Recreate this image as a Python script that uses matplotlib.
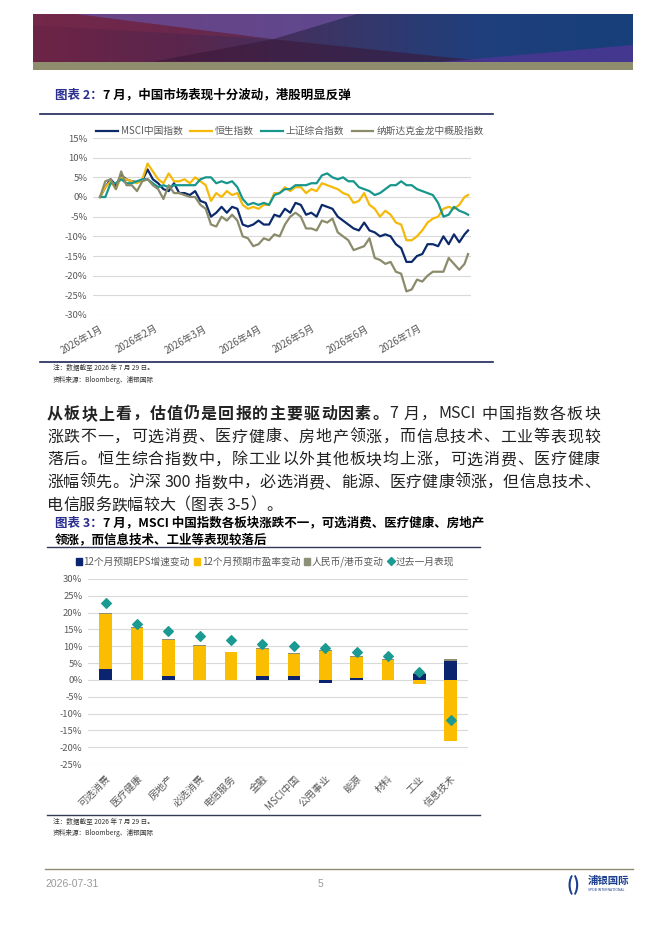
import re
import numpy as np
import pandas as pd
import matplotlib
matplotlib.use('Agg')
import matplotlib.pyplot as plt
from matplotlib.lines import Line2D
from matplotlib.patches import Patch, Polygon, Rectangle
from matplotlib.colors import LinearSegmentedColormap

plt.rcParams['font.family'] = ['Noto Sans CJK SC', 'DejaVu Sans']

# ---- chart 2 data: cumulative return (%) sampled every 3 days from 2026-01-01, last point 07-29
dates = pd.date_range('2026-01-01', periods=70, freq='3D').append(pd.DatetimeIndex(['2026-07-29']))
msci = [0, 2.5, 4.5, 3, 5.5, 4.5, 4, 3.8, 4.2, 7, 4.5, 3.5, 2, 1.5, 3.5, 1, 1, 0.5, 1.5, -1,
        -1.5, -5, -4, -2.5, -4, -2.5, -3, -7, -7.5, -7, -6, -7, -7, -4.5, -5, -3, -4, -1.5, -2, -4.5,
        -4, -5, -2, -2.5, -3, -5, -6, -7, -8, -8.5, -6.5, -8.5, -9, -10, -9.5, -10, -12, -13, -16.5, -16.5,
        -15, -14.5, -12, -12, -12.5, -10, -12, -9.5, -11.5, -9.5, -8.5]
hsi = [0, 2.5, 4, 2, 5, 4.5, 4, 3.5, 4.5, 8.5, 6.5, 4.5, 3.5, 6, 4, 4, 4.5, 3.5, 5, 4,
       3, -1, 1, 0, 1.5, 0.5, 1, -2, -3, -2.5, -3, -2, -2, 1, 1, 2.5, 1.5, 2.5, 2.5, 1,
       2, 1.5, 3.5, 3, 2.5, 2, 1, 0.5, -1.5, -1, 1, -2, -3, -5, -3.5, -4.5, -6.5, -7, -11, -11,
       -10, -8.5, -6.5, -5.5, -5, -3, -2.5, -3, -2, 0, 0.5]
shcomp = [0, 0, 3.5, 3.5, 4.5, 3.5, 3.5, 4, 4.5, 4.5, 3.5, 2.5, 3, 2.5, 3, 3, 3, 3, 3, 4.5,
          5, 5, 3.5, 4, 3.5, 4, 2.5, -0.5, -2, -1.5, -2, -1.5, -2, 0.5, 1, 2, 2, 3, 3, 3,
          3.5, 3.5, 5.5, 6, 5, 4.5, 5, 4, 4, 2.5, 2, 1.5, 0.5, 1, 2, 3, 3, 4, 3, 3,
          2, 1.5, 1, 0.5, -1.5, -5, -4.5, -2.5, -3.5, -4, -4.5]
hxc = [0, 4, 4.5, 2, 6.5, 3, 3, 1.5, 4, 4.5, 3, 2, -0.5, 3, 1, 1, 0.5, 0, 0, -2,
       -3, -7, -7.5, -5, -6, -4.5, -6, -10, -10.5, -12.5, -12, -10.5, -11, -9.5, -10, -7, -5, -4, -5, -8,
       -8, -8.5, -6, -6.5, -5.5, -9, -10, -11, -13.5, -13, -12.5, -10.5, -15.5, -16, -17, -16.5, -19, -19.5, -24, -23.5,
       -21, -21.5, -20, -19, -19, -19, -15.5, -17, -18.5, -17, -14.5]
line_names = ['MSCI中国指数', '恒生指数', '上证综合指数', '纳斯达克金龙中概股指数']
line_colors = ['#0c2a6b', '#f5b90a', '#17968d', '#8b8b6b']

# ---- chart 3 data
sectors = ['可选消费', '医疗健康', '房地产', '必选消费', '电信服务', '金融', 'MSCI中国',
           '公用事业', '能源', '材料', '工业', '信息技术']
eps_chg = [3.2, 0, 1.2, 0, 0, 1.2, 1.2, -0.8, 0.5, 0, 1.9, 5.7]
pe_chg = [16.3, 15.3, 10.6, 10.2, 8.2, 8.0, 6.6, 8.5, 6.4, 5.8, -1.3, -18.3]
fx_chg = [0.3, 0.3, 0.4, 0.3, 0.2, 0.3, 0.3, 0.3, 0.3, 0.3, 0.3, 0.6]
perf_1m = [23.0, 16.7, 14.6, 13.2, 11.8, 10.6, 10.2, 9.6, 8.2, 7.1, 2.4, -11.9]
bar_names = ['12个月预期EPS增速变动', '12个月预期市盈率变动', '人民币/港币变动', '过去一月表现']
bar_colors = ['#0b2470', '#fbbd00', '#8e8f78', '#1a9a92']

W, H = 662, 936
fig = plt.figure(figsize=(W / 100, H / 100), dpi=100)
r = fig.canvas.get_renderer()


def fxp(x):
    return x / W


def fyp(y):
    return 1 - y / H


def hline(y, x0, x1, color, lw=1.0):
    fig.add_artist(Line2D([fxp(x0), fxp(x1)], [fyp(y), fyp(y)], transform=fig.transFigure,
                          color=color, lw=lw))


def two_part(x, y, a, b, ca, cb, size, wa='bold', wb='bold'):
    t = fig.text(fxp(x), fyp(y), a, color=ca, fontsize=size, fontweight=wa, va='center')
    bb = t.get_window_extent(renderer=r)
    fig.text(bb.x1 / fig.bbox.width, fyp(y), b, color=cb, fontsize=size, fontweight=wb, va='center')


def text_w(s, size, weight):
    t = fig.text(0, 0, 'x' + s + 'x', fontsize=size, fontweight=weight)
    w = t.get_window_extent(renderer=r).width
    t.remove()
    t = fig.text(0, 0, 'xx', fontsize=size, fontweight=weight)
    w -= t.get_window_extent(renderer=r).width
    t.remove()
    return w


def para_line(y, segs, x0, x1, size, color, justify=True):
    toks = []
    for s, weight in segs:
        for tk in re.findall(r'[A-Za-z0-9\-]+|.', s):
            toks.append((tk, weight))
    widths = [text_w(tk, size, wt) for tk, wt in toks]
    gap = (x1 - x0 - sum(widths)) / (len(toks) - 1) if justify else 0
    x = x0
    for (tk, wt), w in zip(toks, widths):
        if tk.strip():
            fig.text(fxp(x), fyp(y), tk, fontsize=size, fontweight=wt, color=color, va='center')
        x += w + gap


# banner
bx = fig.add_axes([fxp(33), fyp(70), fxp(600), 56 / H])
bx.set_axis_off()
bx.set_xlim(0, 1)
bx.set_ylim(0, 1)
cmap = LinearSegmentedColormap.from_list('bn', ['#6d2446', '#5a264d', '#3a3566', '#1f3f7d', '#173f7a'])
bx.imshow(np.linspace(0, 1, 256)[None, :], aspect='auto', cmap=cmap, extent=[0, 1, 0.15, 1])
bx.add_patch(Polygon([(0.07, 1), (0.54, 1), (0.40, 0.55)], closed=True, fc='#6c4f9c', alpha=0.75, ec='none'))
bx.add_patch(Polygon([(0.20, 0.15), (0.40, 0.55), (0.76, 0.15)], closed=True, fc='#3a1838', alpha=0.6, ec='none'))
bx.add_patch(Polygon([(0.68, 0.15), (1, 0.15), (1, 0.45)], closed=True, fc='#4f3595', alpha=0.8, ec='none'))
bx.add_patch(Polygon([(0, 1), (0.07, 1), (0.40, 0.55), (0, 0.8)], closed=True, fc='#7a2a4c', alpha=0.5, ec='none'))
bx.add_patch(Rectangle((0, 0), 1, 0.15, fc='#8f8d6d', ec='none'))

# chart 2 title and frame
two_part(55, 95, '图表 2：', '7 月，中国市场表现十分波动，港股明显反弹', '#2b2f8f', 'black', 9)
hline(114, 40, 493, '#1d2557', 1.2)
hline(362, 40, 493, '#1d2557', 1.2)

ax1 = fig.add_axes([fxp(93), fyp(315), fxp(471 - 93), (315 - 138) / H])
series = [msci, hsi, shcomp, hxc]
for vals, name, col in zip(series, line_names, line_colors):
    ax1.plot(dates, vals, color=col, lw=1.6, label=name)
ax1.set_ylim(-30, 15)
ax1.set_yticks(np.arange(-30, 16, 5))
ax1.set_yticklabels([f'{v}%' for v in range(-30, 16, 5)])
ax1.set_xlim(pd.Timestamp('2026-01-01') - pd.Timedelta(days=4), pd.Timestamp('2026-07-30') + pd.Timedelta(hours=16))
months = pd.date_range('2026-01-01', '2026-07-01', freq='MS')
ax1.set_xticks(months)
ax1.set_xticklabels([f'2026年{m.month}月' for m in months], rotation=30, ha='right',
                    rotation_mode='anchor')
ax1.grid(axis='y', color='#d9d9d9', lw=0.8)
ax1.set_axisbelow(True)
for s in ax1.spines.values():
    s.set_visible(False)
ax1.tick_params(length=0, labelsize=6.8, colors='#595959', pad=4)
ax1.tick_params(axis='x', pad=6, labelsize=7)
fig.legend(*ax1.get_legend_handles_labels(), loc='center', bbox_to_anchor=(fxp(290), fyp(131)),
           ncol=4, frameon=False, fontsize=7, handlelength=2.2, handletextpad=0.3,
           columnspacing=0.8, labelcolor='#595959')

fig.text(fxp(53), fyp(368), '注：数据截至 2026 年 7 月 29 日。', fontsize=4.8, color='#333333', va='center')
fig.text(fxp(53), fyp(380), '资料来源：Bloomberg、浦银国际', fontsize=4.8, color='#333333', va='center')

# paragraph
ps = 11.5
pcol = '#222222'
para_line(414, [('从板块上看，估值仍是回报的主要驱动因素。', 'bold'), ('7 月，MSCI 中国指数各板块', 'normal')],
          47, 600, ps, pcol)
para = ['涨跌不一，可选消费、医疗健康、房地产领涨，而信息技术、工业等表现较',
        '落后。恒生综合指数中，除工业以外其他板块均上涨，可选消费、医疗健康',
        '涨幅领先。沪深 300 指数中，必选消费、能源、医疗健康领涨，但信息技术、',
        '电信服务跌幅较大（图表 3-5）。']
for i, ln in enumerate(para):
    para_line(437 + i * 22.8, [(ln, 'normal')], 47, 600, ps, pcol, justify=(i < 3))

# chart 3 title and frame
two_part(55, 523, '图表 3：', '7 月，MSCI 中国指数各板块涨跌不一，可选消费、医疗健康、房地产',
         '#2b2f8f', 'black', 9)
fig.text(fxp(55), fyp(540), '领涨，而信息技术、工业等表现较落后', fontsize=9, fontweight='bold', va='center')
hline(547, 47, 480, '#333a55', 1.0)
hline(815, 47, 480, '#333a55', 1.0)

ax2 = fig.add_axes([fxp(88), fyp(764), fxp(468 - 88), (764 - 579) / H])
xpos = np.arange(len(sectors))
pos_base = np.zeros(len(sectors))
neg_base = np.zeros(len(sectors))
for vals, name, col in zip([eps_chg, pe_chg, fx_chg], bar_names[:3], bar_colors[:3]):
    v = np.array(vals, dtype=float)
    bottom = np.where(v >= 0, pos_base, neg_base)
    ax2.bar(xpos, v, bottom=bottom, width=0.4, color=col, zorder=2)
    pos_base = pos_base + np.where(v >= 0, v, 0)
    neg_base = neg_base + np.where(v < 0, v, 0)
ax2.scatter(xpos, perf_1m, marker='D', s=24, color=bar_colors[3], zorder=3)
ax2.set_ylim(-25, 30)
ax2.set_xlim(-0.56, 11.55)
ax2.set_yticks(np.arange(-25, 31, 5))
ax2.set_yticklabels([f'{v}%' for v in range(-25, 31, 5)])
ax2.set_xticks(xpos)
ax2.set_xticklabels(sectors, rotation=45, ha='right', rotation_mode='anchor')
ax2.grid(axis='y', color='#d9d9d9', lw=0.8)
ax2.set_axisbelow(True)
for s in ax2.spines.values():
    s.set_visible(False)
ax2.tick_params(length=0, labelsize=6.8, colors='#595959', pad=4)
ax2.tick_params(axis='x', pad=7, labelsize=7.2)
handles = [Patch(color=c) for c in bar_colors[:3]]
handles.append(Line2D([], [], marker='D', ls='none', color=bar_colors[3], ms=4.5))
fig.legend(handles, bar_names, loc='center', bbox_to_anchor=(fxp(265), fyp(562)), ncol=4,
           frameon=False, fontsize=7, handlelength=0.6, handleheight=0.8, handletextpad=0.2,
           columnspacing=0.4, labelcolor='#595959')

fig.text(fxp(53), fyp(822), '注：数据截至 2026 年 7 月 29 日。', fontsize=4.8, color='#333333', va='center')
fig.text(fxp(53), fyp(833), '资料来源：Bloomberg、浦银国际', fontsize=4.8, color='#333333', va='center')

# footer
hline(869, 45, 633, '#8f8d6d', 1.0)
fig.text(fxp(45), fyp(884), '2026-07-31', fontsize=7.5, color='#9a9a9a', va='center', family='Liberation Sans')
fig.text(fxp(318), fyp(884), '5', fontsize=7.5, color='#9a9a9a', va='center', family='Liberation Sans')
fig.text(fxp(566), fyp(885), '(', fontsize=13, color='#1c3f8e', fontweight='bold', va='center', style='italic')
fig.text(fxp(572), fyp(885), ')', fontsize=13, color='#1c3f8e', fontweight='bold', va='center', style='italic')
fig.text(fxp(588), fyp(881), '浦银国际', fontsize=7.5, color='#1c3f8e', fontweight='bold', va='center')
fig.text(fxp(588), fyp(890), 'SPDB INTERNATIONAL', fontsize=2.5, color='#1c3f8e', va='center')

fig.savefig('out.png', dpi=100, facecolor='white')
